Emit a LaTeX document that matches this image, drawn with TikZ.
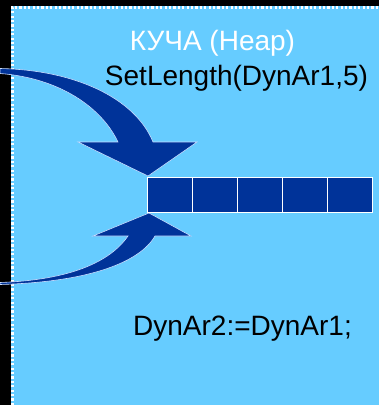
\documentclass[tikz,border=0pt]{standalone}
\usepackage{fontspec}
\setmainfont{Liberation Sans}
\definecolor{heapblue}{HTML}{66CCFF}
\definecolor{darkblue}{HTML}{003399}
\definecolor{edgecol}{HTML}{C8DCFF}
\tikzset{
  cell/.style={draw=white, line width=0.6pt, fill=darkblue, minimum width=45pt, minimum height=35pt, inner sep=0pt, anchor=north west},
  bigarrow/.style={fill=darkblue, draw=edgecol, line width=0.6pt},
  lbl/.style={font=\fontsize{28}{32}\selectfont, anchor=base, inner sep=0pt}
}
\begin{document}
\begin{tikzpicture}[x=1pt,y=-1pt]
\useasboundingbox (0,0) rectangle (379,405);
\fill[black] (0,0) rectangle (379,405);
\fill[heapblue] (11,6) rectangle (379,405);
\draw[white, line width=2.6pt, dash pattern=on 2.2pt off 2.2pt] (12.3,405) -- (12.3,7.3) -- (379,7.3);
% top arrow
\path[bigarrow] (0,68.5) .. controls (75,70) and (135,98) .. (153,142)
  -- (197,142) -- (148,176) -- (78,142) -- (118,142)
  .. controls (102,108) and (60,78) .. (0,73.5) -- cycle;
% bottom arrow
\path[bigarrow] (0,284.5) .. controls (90,282) and (140,262) .. (155,236)
  -- (191,236) -- (149,213) -- (93,236) -- (128,236)
  .. controls (110,262) and (70,280) .. (0,282.5) -- cycle;
% cells
\node[cell] (c1) at (147,177) {};
\node[cell] (c2) at (192,177) {};
\node[cell] (c3) at (237,177) {};
\node[cell] (c4) at (282,177) {};
\node[cell] (c5) at (327,177) {};
% texts
\node[lbl, text=white] (heap) at (212.5,50) {КУЧА (Heap)};
\node[lbl, text=black] (setlen) at (236.5,85) {SetLength(DynAr1,5)};
\node[lbl, text=black] (assign) at (242.5,335) {DynAr2:=DynAr1;};
\end{tikzpicture}
\end{document}
